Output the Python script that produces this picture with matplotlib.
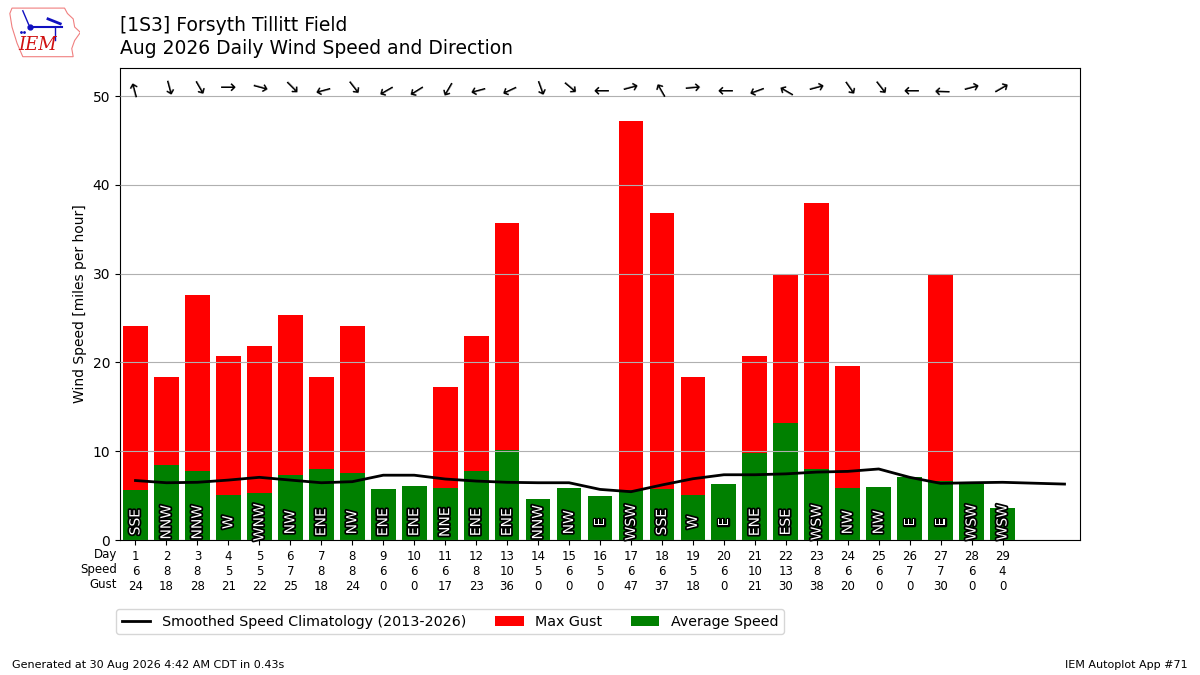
import numpy as np
import matplotlib
matplotlib.use("Agg")
import matplotlib.pyplot as plt
import matplotlib.patheffects as PathEffects
from matplotlib.patches import Polygon

days = list(range(1, 30))
avg_speed = [5.6, 8.4, 7.8, 5.1, 5.3, 7.3, 8.0, 7.5, 5.7, 6.1,
             5.9, 7.8, 10.1, 4.6, 5.9, 5.0, 5.6, 5.7, 5.1, 6.3,
             9.8, 13.2, 8.0, 5.9, 6.0, 7.1, 6.7, 6.3, 3.6]
max_gust = [24.1, 18.4, 27.6, 20.7, 21.8, 25.3, 18.4, 24.1, 0, 0,
            17.2, 23.0, 35.7, 0, 0, 0, 47.2, 36.8, 18.4, 0,
            20.7, 30.0, 38.0, 19.6, 0, 0, 30.0, 0, 0]
speed_lbl = [6, 8, 8, 5, 5, 7, 8, 8, 6, 6, 6, 8, 10, 5, 6, 5, 6, 6, 5, 6,
             10, 13, 8, 6, 6, 7, 7, 6, 4]
gust_lbl = [24, 18, 28, 21, 22, 25, 18, 24, 0, 0, 17, 23, 36, 0, 0, 0, 47, 37,
            18, 0, 21, 30, 38, 20, 0, 0, 30, 0, 0]
dir_txt = ["SSE", "NNW", "NNW", "W", "WNW", "NW", "ENE", "NW", "ENE", "ENE",
           "NNE", "ENE", "ENE", "NNW", "NW", "E", "WSW", "SSE", "W", "E",
           "ENE", "ESE", "WSW", "NW", "NW", "E", "E", "WSW", "WSW"]
dir_deg = [165, 345, 330, 270, 285, 315, 75, 322, 60, 58,
           30, 75, 65, 340, 310, 90, 255, 150, 265, 90,
           70, 120, 255, 325, 322, 90, 92, 255, 240]
clim_days = list(range(1, 32))
clim_speed = [6.7, 6.45, 6.5, 6.75, 7.06, 6.75, 6.45, 6.57, 7.3, 7.3,
              6.87, 6.64, 6.5, 6.45, 6.45, 5.7, 5.44, 6.2, 6.9, 7.35,
              7.35, 7.45, 7.65, 7.73, 8.0, 7.06, 6.38, 6.45, 6.5, 6.4, 6.3]

fig = plt.figure(figsize=(12, 6.75), dpi=100)
ax = fig.add_axes([0.1, 0.2, 0.8, 0.699])

ax.bar(days, max_gust, width=0.8, color="r", label="Max Gust", zorder=1)
ax.bar(days, avg_speed, width=0.8, color="g", label="Average Speed", zorder=1)
ax.plot(clim_days, clim_speed, color="k", lw=2, zorder=3,
        label="Smoothed Speed Climatology (2013-2026)")

for d, txt, deg in zip(days, dir_txt, dir_deg):
    t = ax.text(d, 2, txt, rotation=90, ha="center", va="center",
                color="white", fontsize=10, zorder=4)
    t.set_path_effects([PathEffects.withStroke(linewidth=2.5, foreground="k")])
    # arrow points the way the wind blows toward
    ax.text(d, 50.9, "\u2192", rotation=(270 - deg) % 360, ha="center",
            va="center", fontsize=14)

ax.set_xlim(0.5, 31.5)
ax.set_ylim(0, 53.15)
ax.set_yticks(range(0, 51, 10))
ax.grid(axis="y", color="#b0b0b0", zorder=2)
ax.set_axisbelow(False)
ax.set_ylabel("Wind Speed [miles per hour]")
ax.set_xticks(days)
ax.set_xticklabels(["%d\n%d\n%d" % (d, s, g)
                    for d, s, g in zip(days, speed_lbl, gust_lbl)], fontsize=8.5)
ax.text(-0.003, -0.018, "Day\nSpeed\nGust", transform=ax.transAxes,
        ha="right", va="top", fontsize=8.5)

ax.legend(loc="upper left", bbox_to_anchor=(-0.004, -0.146), ncol=3,
          borderaxespad=0, fontsize=10.3)

fig.text(0.1, 0.954, "[1S3] Forsyth Tillitt Field", fontsize=13.5, va="baseline")
fig.text(0.1, 0.92, "Aug 2026 Daily Wind Speed and Direction", fontsize=13.5,
         va="baseline")
fig.text(0.01, 0.01, "Generated at 30 Aug 2026 4:42 AM CDT in 0.43s", fontsize=8)
fig.text(0.99, 0.01, "IEM Autoplot App #71", fontsize=8, ha="right")

# small IEM logo
lax = fig.add_axes([0.007, 0.912, 0.06, 0.08])
lax.set_xlim(0, 1)
lax.set_ylim(0, 1)
lax.axis("off")
iowa = [(0.05, 0.95), (0.78, 0.95), (0.82, 0.85), (0.9, 0.75), (0.92, 0.6),
        (1.0, 0.5), (0.92, 0.35), (0.88, 0.2), (0.9, 0.05), (0.2, 0.05),
        (0.12, 0.3), (0.05, 0.6), (0.02, 0.85)]
lax.add_patch(Polygon(iowa, closed=True, fill=False, ec="#f08080", lw=0.8))
lax.plot([0.3, 0.75], [0.6, 0.6], color="#1010c0", lw=1.5)
lax.plot([0.3], [0.6], "o", color="#1010c0", ms=3.5)
lax.plot([0.65, 0.65], [0.6, 0.35], color="#1010c0", lw=1)
lax.plot([0.55, 0.72], [0.75, 0.66], color="#1010c0", lw=2)
lax.plot([0.2, 0.28], [0.9, 0.65], color="#1010c0", lw=1)
lax.plot([0.18, 0.22], [0.5, 0.5], ".", color="#1010c0", ms=2)
lax.text(0.4, 0.27, "IEM", color="#d01010", fontsize=13, family="serif",
         style="italic", ha="center", va="center")

fig.savefig("out.png", dpi=100)
